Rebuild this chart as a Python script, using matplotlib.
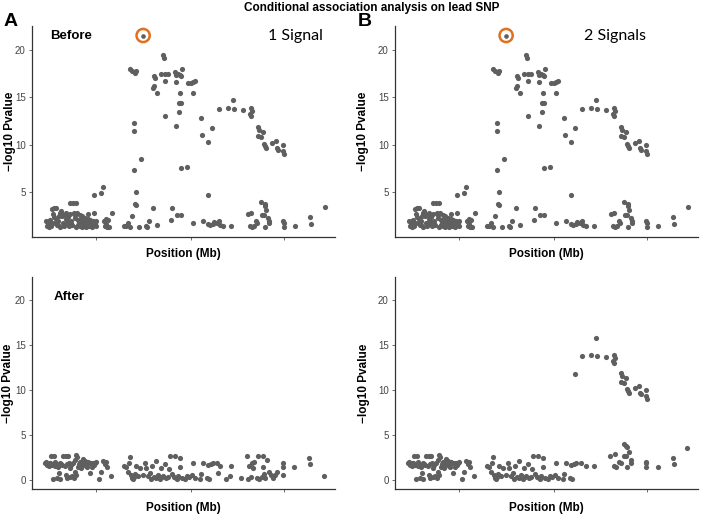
import numpy as np
import matplotlib
matplotlib.use("Agg")
import matplotlib.pyplot as plt

plt.rcParams['font.family'] = ['Liberation Sans', 'DejaVu Sans']

# lead SNP (position in Mb, -log10 p)
lead_pos = 4.30
lead_logp = 21.5

# all SNPs before conditioning
pos_before = [
    3.92, 3.98, 4.05, 4.10, 4.02, 4.02, 4.25, 4.03, 4.10, 4.05, 4.10, 3.98,
    4.63, 4.65, 4.60, 4.62, 4.72, 4.90, 4.93, 4.85, 4.95, 5.05, 4.97, 4.95,
    5.27, 5.30, 5.35, 5.40, 5.47, 5.43, 5.28, 5.40, 5.37, 5.45, 5.37, 5.30, 5.45, 5.60,
    5.65, 5.72, 5.80, 5.85, 5.80, 6.03, 6.07, 6.25, 6.35, 6.25,
    6.58, 6.83, 7.00, 7.03, 7.30, 7.52, 7.55, 7.50, 7.52,
    7.75, 7.78, 7.88, 7.75, 7.82, 7.92, 7.95, 7.97, 8.15, 8.28, 8.32, 8.35, 8.50, 8.50, 8.52,
    7.83, 7.95, 7.95, 7.97,
    # low, left block
    1.40, 1.45, 1.48, 1.50, 1.52, 1.55, 1.58, 1.60, 1.63, 1.65, 1.68, 1.70, 1.72, 1.75,
    1.78, 1.80, 1.82, 1.85, 1.88, 1.90, 1.93, 1.95, 1.98, 2.00, 2.03, 2.05, 2.08, 2.10,
    2.12, 2.15, 2.18, 2.20, 2.22, 2.25, 2.28, 2.30, 2.32, 2.35, 2.38, 2.40, 2.42, 2.45,
    2.48, 2.50, 2.52, 2.55, 2.58, 2.60, 2.62, 2.65, 2.68, 2.70, 2.72, 2.75, 2.78, 2.80,
    2.83, 2.85, 2.88, 2.90, 2.82, 3.03, 3.10, 3.12, 3.15, 3.18, 3.20, 3.22, 3.25, 3.28, 3.38,
    1.42, 1.47, 1.56, 1.62, 1.74, 1.86, 2.02, 2.14, 2.26, 2.36, 2.46, 2.56, 2.66, 2.76,
    # low, middle block
    3.72, 3.78, 3.85, 3.90, 4.18, 4.38, 4.42, 4.48, 4.60, 4.73, 5.13, 5.17, 5.32, 5.45,
    5.80, 6.08, 6.25, 6.30, 6.38, 6.42, 6.50, 6.58, 6.60, 6.70, 6.92,
    # low, right block
    7.45, 7.52, 7.50, 7.57, 7.62, 7.68, 7.72, 7.85, 7.92, 7.95, 8.03, 8.08, 8.08,
    8.50, 8.52, 8.52, 8.85, 9.30, 9.33, 9.75,
]
logp_before = [
    18.0, 17.8, 17.6, 17.8, 12.3, 11.4, 8.5, 7.3, 5.0, 3.8, 3.7, 2.5,
    17.2, 17.0, 16.0, 16.2, 15.5, 19.4, 19.1, 17.5, 17.5, 17.4, 16.7, 13.0,
    17.7, 17.3, 17.5, 17.3, 18.0, 17.2, 16.6, 15.4, 14.4, 14.4, 13.4, 12.0, 7.6, 7.7,
    16.5, 16.5, 16.6, 16.7, 15.5, 12.8, 11.0, 10.3, 11.8, 4.7,
    13.8, 13.9, 14.7, 13.8, 13.7, 13.9, 13.6, 13.2, 13.0,
    11.9, 11.6, 11.3, 10.9, 10.8, 10.1, 9.9, 9.7, 10.2, 10.4, 9.7, 9.5, 10.0, 9.3, 9.0,
    4.0, 3.8, 3.6, 3.1,
    2.0, 1.7, 1.4, 1.9, 2.1, 1.5, 3.2, 2.7, 3.4, 1.8, 2.2, 3.3, 1.6, 2.0,
    2.5, 1.4, 2.8, 3.0, 2.7, 1.8, 1.5, 2.6, 2.2, 2.8, 1.7, 2.4, 1.5, 2.7,
    3.9, 2.0, 1.6, 3.9, 2.8, 2.3, 3.9, 1.4, 2.8, 2.1, 1.8, 2.6, 1.5, 2.2,
    1.4, 1.9, 1.6, 2.3, 1.4, 2.0, 1.7, 2.2, 1.5, 1.9, 2.1, 1.6, 1.4, 2.0,
    2.8, 1.8, 1.5, 2.0, 4.7, 4.9, 5.6, 2.0, 1.5, 2.2, 1.7, 1.4, 2.1, 1.4, 2.8,
    1.5, 2.0, 1.8, 2.4, 1.6, 2.5, 2.0, 1.7, 2.6, 1.6, 2.5, 1.9, 2.7, 1.8,
    1.5, 1.5, 1.8, 1.4, 1.4, 1.5, 1.4, 2.0, 3.3, 1.6, 2.1, 3.3, 2.6, 2.6,
    1.8, 2.0, 1.7, 1.6, 1.7, 1.9, 1.8, 2.0, 1.6, 1.5, 1.5,
    2.7, 2.8, 1.5, 1.4, 1.5, 2.0, 1.8, 2.6, 2.6, 1.4, 2.3, 2.0, 1.8,
    2.0, 1.8, 1.4, 1.5, 2.4, 1.7, 3.5,
]

# after conditioning on the lead SNP (one signal)
pos_after = [
    1.35, 1.40, 1.45, 1.48, 1.50, 1.55, 1.58, 1.60, 1.63, 1.65, 1.68, 1.72, 1.75, 1.78,
    1.80, 1.82, 1.85, 1.90, 1.95, 1.98, 2.00, 2.02, 2.05, 2.08, 2.10, 2.12, 2.15, 2.18,
    2.20, 2.22, 2.25, 2.28, 2.30, 2.32, 2.35, 2.38, 2.40, 2.42, 2.45, 2.48, 2.50, 2.52,
    2.55, 2.58, 2.60, 2.62, 2.65, 2.68, 2.70, 2.75, 2.78, 2.80, 2.85, 2.90, 2.98, 3.05,
    3.10, 3.15, 3.18, 3.22, 3.35, 1.43, 1.52, 1.67, 1.87, 2.03, 2.27, 2.44, 2.63, 2.82,
    3.72, 3.78, 3.85, 3.88, 3.92, 3.95, 3.98, 4.00, 4.03, 4.05, 4.10, 4.15, 4.20, 4.30,
    4.35, 4.40, 4.45, 4.50, 4.55, 4.58, 4.62, 4.68, 4.70, 4.75, 4.80, 4.85, 4.88, 4.90,
    4.95, 4.98, 5.05, 5.08, 5.12, 5.18, 5.22, 5.25, 5.28, 5.32, 5.35, 5.40, 5.42, 5.48,
    5.55, 5.60, 5.68, 5.75, 5.78, 5.85, 6.00, 6.03, 6.08, 6.20, 6.25, 6.28,
    6.33, 6.38, 6.50, 6.55, 6.60, 6.78, 6.90, 6.92,
    7.22, 7.40, 7.45, 7.48, 7.52, 7.57, 7.60, 7.62, 7.70, 7.75, 7.78, 7.85, 7.88, 7.90,
    7.92, 7.95, 8.00, 8.08, 8.12, 8.18, 8.25, 8.30, 8.48, 8.48, 8.48, 8.82, 9.28, 9.30, 9.72,
]
logp_after = [
    1.9, 2.0, 1.7, 1.5, 1.9, 2.6, 1.6, 0.1, 2.6, 2.0, 1.7, 0.2, 1.4, 0.7,
    1.8, 0.1, 1.7, 2.6, 1.5, 2.6, 0.5, 0.2, 2.6, 1.9, 0.3, 1.3, 1.6, 0.4,
    1.8, 0.2, 0.9, 0.5, 2.7, 2.5, 1.4, 1.7, 2.0, 1.5, 1.3, 1.6, 2.3, 1.8,
    2.1, 1.5, 1.9, 1.7, 2.0, 1.9, 0.7, 1.8, 1.4, 1.9, 1.8, 2.0, 0.1, 0.8,
    2.1, 1.7, 2.0, 1.4, 0.4, 1.6, 1.8, 1.5, 1.6, 1.7, 2.2, 1.9, 1.4, 1.6,
    1.5, 1.4, 0.9, 1.8, 2.5, 0.5, 0.2, 0.1, 0.3, 0.6, 1.5, 0.4, 1.3, 0.5,
    1.9, 1.3, 0.4, 0.7, 0.1, 1.5, 0.3, 0.2, 2.1, 0.5, 0.1, 1.3, 0.3, 0.4,
    1.7, 0.2, 0.3, 1.2, 2.6, 0.6, 0.3, 2.6, 0.2, 0.1, 0.4, 2.4, 1.4, 0.2,
    0.1, 0.4, 0.3, 0.5, 1.8, 0.2, 0.1, 0.6, 1.9, 0.2, 1.6, 0.1,
    1.7, 1.8, 1.9, 0.7, 1.5, 0.1, 0.4, 1.5,
    0.2, 2.6, 0.1, 1.5, 0.3, 1.8, 1.3, 2.0, 0.2, 2.6, 0.1, 0.3, 2.6, 1.4,
    0.6, 0.2, 2.2, 0.8, 0.5, 0.2, 0.5, 0.8, 1.9, 1.4, 0.5, 1.4, 2.4, 1.7, 0.4,
]

# SNPs of the second signal, kept after conditioning (two signals)
pos_signal2 = [
    6.35, 6.58, 6.83, 7.00, 7.03, 7.30, 7.52, 7.55, 7.50, 7.52,
    7.75, 7.78, 7.88, 7.75, 7.82, 7.92, 7.95, 7.97, 8.15, 8.28, 8.32, 8.35, 8.50, 8.50, 8.52,
    7.83, 7.90, 7.93, 7.97, 6.33, 6.40, 6.55, 6.68, 6.93,
    7.40, 7.55, 7.52, 7.60, 7.68, 7.73, 7.83, 7.90, 7.93, 8.03, 8.05,
    8.50, 8.50, 8.50, 8.85, 9.30, 9.32, 9.73,
]
logp_signal2 = [
    11.8, 13.8, 13.9, 15.8, 13.8, 13.7, 13.9, 13.6, 13.2, 13.0,
    11.9, 11.6, 11.3, 10.9, 10.8, 10.1, 9.9, 9.7, 10.2, 10.4, 9.7, 9.5, 10.0, 9.3, 9.0,
    4.0, 3.8, 3.6, 3.1, 1.7, 1.8, 1.9, 1.5, 1.5,
    2.6, 2.8, 1.5, 1.4, 2.0, 1.8, 2.6, 2.6, 1.4, 2.2, 1.8,
    2.0, 1.8, 1.4, 1.4, 2.4, 1.7, 3.5,
]
signal2_start = 6.30

yticks = [0, 5, 10, 15, 20]
xticks = [2.90, 5.72, 8.53]
pt_color = '#5f5f5f'

W, H = 704, 516
fig = plt.figure(figsize=(W / 100, H / 100), dpi=100)


def make_ax(left, top, right, bottom, ylim, ylab_px, xlab_px):
    ax = fig.add_axes([left / W, 1 - bottom / H, (right - left) / W, (bottom - top) / H])
    ax.set_xlim(0.97, 10.05)
    ax.set_ylim(*ylim)
    for s in ['top', 'right']:
        ax.spines[s].set_visible(False)
    for s in ['left', 'bottom']:
        ax.spines[s].set_color('#333333')
        ax.spines[s].set_linewidth(0.9)
    ax.set_xticks(xticks)
    ax.set_xticklabels([])
    ax.set_yticks([t for t in yticks if ylim[0] <= t])
    ax.tick_params(axis='both', length=2.5, width=0.6, color='#555555',
                   labelsize=7, labelcolor='#444444', pad=2)
    ax.set_xlabel('Position (Mb)', fontsize=8.5, fontweight='bold', va='center')
    ax.set_ylabel('\u2212log10 Pvalue', fontsize=8.5, fontweight='bold', va='center')
    # label centres given in figure pixels
    ax.yaxis.set_label_coords((ylab_px - left) / (right - left), 0.5)
    ax.xaxis.set_label_coords(0.5, (bottom - xlab_px) / (bottom - top))
    return ax


top_ylim = (0.3, 22.5)
bot_ylim = (-1.05, 22.6)

axA = make_ax(32, 26, 335, 237, top_ylim, 10, 254)
axB = make_ax(395, 26, 698, 237, top_ylim, 363, 254)
axC = make_ax(32, 277, 335, 489, bot_ylim, 8, 508)
axD = make_ax(395, 277, 698, 489, bot_ylim, 364, 508)

for ax in (axA, axB):
    ax.scatter(pos_before, logp_before, s=14, color=pt_color, linewidths=0, zorder=3)
    ax.scatter([lead_pos], [lead_logp], s=11, color=pt_color, linewidths=0, zorder=4)
    ax.scatter([lead_pos], [lead_logp], s=90, facecolors='none',
               edgecolors='#e0711f', linewidths=1.8, zorder=5)

axC.scatter(pos_after, logp_after, s=14, color=pt_color, linewidths=0, zorder=3)

# two signals: left part conditioned, second signal kept
keep = [i for i, p in enumerate(pos_after) if p < signal2_start]
axD.scatter([pos_after[i] for i in keep], [logp_after[i] for i in keep],
            s=14, color=pt_color, linewidths=0, zorder=3)
axD.scatter(pos_signal2, logp_signal2, s=14, color=pt_color, linewidths=0, zorder=3)

fig.text(372 / W, 1 - 8 / H, 'Conditional association analysis on lead SNP',
         ha='center', va='center', fontsize=8.5, fontweight='bold')
fig.text(4 / W, 1 - 22 / H, 'A', ha='left', va='center', fontsize=14, fontweight='bold')
fig.text(358 / W, 1 - 22 / H, 'B', ha='left', va='center', fontsize=14, fontweight='bold')
fig.text(50 / W, 1 - 36 / H, 'Before', ha='left', va='center', fontsize=9.5, fontweight='bold')
fig.text(54 / W, 1 - 297 / H, 'After', ha='left', va='center', fontsize=9.5, fontweight='bold')
fig.text(268 / W, 1 - 36 / H, '1 Signal', ha='left', va='center', fontsize=11.5,
         family=['Lato', 'DejaVu Sans'])
fig.text(584 / W, 1 - 36 / H, '2 Signals', ha='left', va='center', fontsize=11.5,
         family=['Lato', 'DejaVu Sans'])

fig.savefig('out.png', dpi=100)
